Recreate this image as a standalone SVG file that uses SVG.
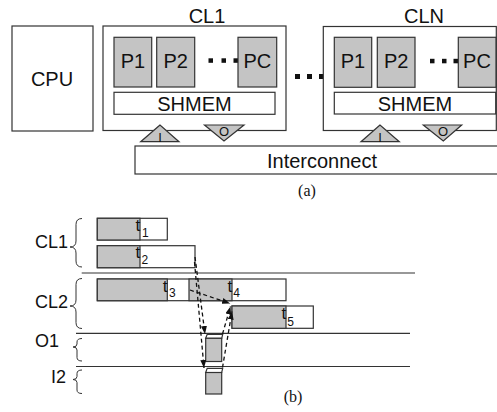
<svg xmlns="http://www.w3.org/2000/svg" width="497" height="412" viewBox="0 0 497 412">
<style>
.box{fill:#fff;stroke:#333;stroke-width:1.2}
.g{fill:#c4c4c4;stroke:#333;stroke-width:1.2}
.w{fill:#fff;stroke:#333;stroke-width:1.2}
.t20{font-family:"Liberation Sans",Arial,sans-serif;font-size:20px;fill:#111;text-anchor:middle}
.t18{font-family:"Liberation Sans",Arial,sans-serif;font-size:18px;fill:#111}
.t13{font-family:"Liberation Sans",Arial,sans-serif;font-size:13px;fill:#111;text-anchor:middle}
.tt{font-family:"Liberation Sans",Arial,sans-serif;font-size:17px;fill:#111}
.ts{font-family:"Liberation Sans",Arial,sans-serif;font-size:12px;fill:#111}
.cap{font-family:"Liberation Serif","Times New Roman",serif;font-size:16px;fill:#111;text-anchor:middle}
.dot{fill:#111}
.sep{stroke:#333;stroke-width:1.2;fill:none}
.br{stroke:#333;stroke-width:1;fill:none}
.da{stroke:#111;stroke-width:1.3;fill:none;stroke-dasharray:4 3}
</style>
<defs>
<marker id="ah" markerUnits="userSpaceOnUse" markerWidth="8" markerHeight="6" refX="8" refY="3" orient="auto">
<path d="M0,0 L8,3 L0,6 z" fill="#111"/>
</marker>
</defs>

<!-- (a) -->
<g id="cpu">
<rect class="box" x="12" y="26" width="81" height="105"/>
<text class="t20" x="52" y="86">CPU</text>
</g>

<g id="cl1">
<text class="t20" x="207" y="22.5">CL1</text>
<rect class="box" x="103" y="26" width="183" height="104.5"/>
<rect class="g" x="114" y="37.3" width="37.7" height="49.7"/>
<text class="t20" x="133" y="68.3">P1</text>
<rect class="g" x="156.7" y="37.3" width="38" height="49.7"/>
<text class="t20" x="175.7" y="68.3">P2</text>
<rect class="dot" x="208.5" y="58.3" width="4.5" height="4.5"/>
<rect class="dot" x="221.5" y="58.3" width="4.5" height="4.5"/>
<rect class="dot" x="233.5" y="58.3" width="4.5" height="4.5"/>
<rect class="g" x="238" y="37.3" width="38.7" height="49.7"/>
<text class="t20" x="257.3" y="68.3">PC</text>
<rect class="w" x="114" y="92.3" width="161" height="22"/>
<text class="t20" x="194.5" y="111">SHMEM</text>
<polygon class="g" points="160,125 140.7,141.7 179,141.7"/>
<text class="t13" x="160" y="142">I</text>
<polygon class="g" points="204.5,125 244,125 224,141"/>
<text class="t13" x="224" y="136">O</text>
</g>

<g id="dots-between">
<rect class="dot" x="295" y="74" width="5" height="5"/>
<rect class="dot" x="307" y="74" width="5" height="5"/>
<rect class="dot" x="319" y="74" width="5" height="5"/>
</g>

<g id="cln">
<text class="t20" x="424" y="22.5">CLN</text>
<rect class="box" x="323.3" y="26.5" width="173" height="104"/>
<rect class="g" x="334.3" y="37.3" width="37.4" height="50"/>
<text class="t20" x="353" y="68.3">P1</text>
<rect class="g" x="377.3" y="37.3" width="37.7" height="50"/>
<text class="t20" x="396.2" y="68.3">P2</text>
<rect class="dot" x="430" y="58.8" width="4.5" height="4.5"/>
<rect class="dot" x="442" y="58.8" width="4.5" height="4.5"/>
<rect class="dot" x="453.5" y="58.8" width="4.5" height="4.5"/>
<rect class="g" x="458.3" y="37.3" width="37.7" height="50"/>
<text class="t20" x="477" y="68.3">PC</text>
<rect class="w" x="334.3" y="92.3" width="161.4" height="21.7"/>
<text class="t20" x="415" y="111">SHMEM</text>
<polygon class="g" points="380,125 361,141.7 399.3,141.7"/>
<text class="t13" x="380" y="142">I</text>
<polygon class="g" points="423.3,125 461.7,125 443.3,141"/>
<text class="t13" x="443" y="136">O</text>
</g>

<g id="interconnect">
<rect class="box" x="135" y="146" width="370" height="28"/>
<text class="t20" x="322" y="168.3">Interconnect</text>
</g>
<text class="cap" x="307" y="196">(a)</text>

<!-- (b) -->
<g id="labels-b">
<text class="t18" x="35" y="248">CL1</text>
<path class="br" d="M82,218.5 Q76,218.5 76,224.5 L76,241 Q76,247 70,247 Q76,247 76,253 L76,261 Q76,267 82,267"/>
<text class="t18" x="35" y="307.5">CL2</text>
<path class="br" d="M82,278.5 Q76,278.5 76,284.5 L76,300 Q76,306 70,306 Q76,306 76,312 L76,322.5 Q76,328.5 82,328.5"/>
<text class="t18" x="35" y="346.5">O1</text>
<path class="br" d="M82,338.5 Q77,338.5 77,342 L77,344 Q77,347 73,347 Q77,347 77,350 L77,357.5 Q77,361 82,361"/>
<text class="t18" x="51" y="382.5">I2</text>
<path class="br" d="M82,370 Q77,370 77,373.5 L77,376.5 Q77,379.5 73,379.5 Q77,379.5 77,382.5 L77,390 Q77,393.5 82,393.5"/>
</g>

<g id="separators">
<line class="sep" x1="81.7" y1="273" x2="415" y2="273"/>
<line class="sep" x1="76" y1="333.3" x2="410" y2="333.3"/>
<line class="sep" x1="76" y1="366.5" x2="410" y2="366.5"/>
</g>

<g id="cl1-tasks">
<rect class="w" x="97.3" y="218.3" width="70" height="21.7"/>
<rect class="g" x="97.3" y="218.3" width="42.7" height="21.7"/>
<text class="tt" x="135.5" y="231">t</text><text class="ts" x="142" y="237">1</text>
<rect class="w" x="97.3" y="245.7" width="97.7" height="22"/>
<rect class="g" x="97.3" y="245.7" width="42.7" height="22"/>
<text class="tt" x="135.5" y="257.5">t</text><text class="ts" x="141.5" y="264">2</text>
</g>

<g id="cl2-tasks">
<rect class="w" x="97.3" y="279" width="188.7" height="21.7"/>
<rect class="g" x="97.3" y="279" width="70" height="21.7"/>
<rect class="g" x="189" y="279" width="43" height="21.7"/>
<text class="tt" x="162.8" y="292">t</text><text class="ts" x="169" y="296.5">3</text>
<text class="tt" x="227.5" y="292">t</text><text class="ts" x="233.3" y="297">4</text>
<rect class="w" x="232" y="306" width="81.3" height="22.3"/>
<rect class="g" x="232" y="306" width="54" height="22.3"/>
<text class="tt" x="281.5" y="318.5">t</text><text class="ts" x="287.3" y="325.5">5</text>
</g>

<g id="o1-box">
<polygon class="w" points="205.7,338.3 207.2,334.3 222.7,334.3 221.7,338.3"/>
<rect class="g" x="205.7" y="338.3" width="16" height="23.2"/>
</g>
<g id="i2-box">
<polygon class="w" points="205.7,372.5 207.2,368.3 222.7,368.3 221.7,372.5"/>
<rect class="g" x="205.7" y="372.5" width="16" height="21.5"/>
</g>

<g id="connectors">
<path class="da" d="M195,257 L205,334" marker-end="url(#ah)"/>
<path class="da" d="M194.5,262 L204,368" marker-end="url(#ah)"/>
<path class="da" d="M190,290 L230,303.5" marker-end="url(#ah)"/>
<path class="da" d="M222.5,334 L230.5,306.5" marker-end="url(#ah)"/>
<path class="da" d="M222.5,367.5 L232,311.5" marker-end="url(#ah)"/>
</g>
<text class="cap" x="293" y="402">(b)</text>
</svg>
